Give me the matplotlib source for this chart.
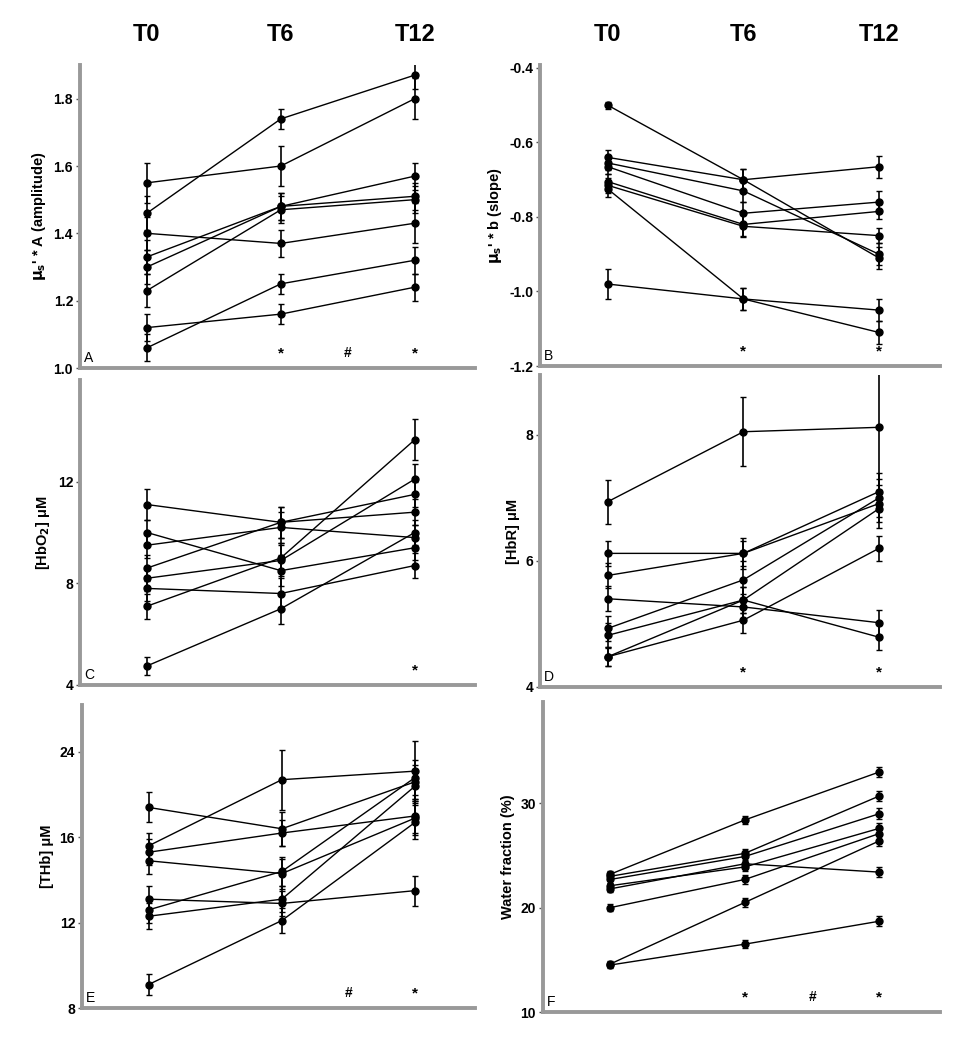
import matplotlib
matplotlib.use("Agg")
import matplotlib.pyplot as plt
from matplotlib.ticker import FixedLocator, FixedFormatter

plt.rcParams['font.family'] = ['Liberation Sans', 'DejaVu Sans']

times = ["T0", "T6", "T12"]
xpos = [0, 1, 2]

# panel A: mus' * A (amplitude), 8 subjects
a_t0 = [1.55, 1.46, 1.40, 1.33, 1.30, 1.23, 1.12, 1.06]
a_t6 = [1.60, 1.74, 1.37, 1.48, 1.48, 1.47, 1.16, 1.25]
a_t12 = [1.80, 1.87, 1.43, 1.57, 1.51, 1.50, 1.24, 1.32]
a_err = [[0.06, 0.05, 0.05, 0.05, 0.05, 0.05, 0.04, 0.04],
         [0.06, 0.03, 0.04, 0.04, 0.04, 0.04, 0.03, 0.03],
         [0.06, 0.04, 0.06, 0.04, 0.04, 0.04, 0.04, 0.04]]

# panel B: mus' * b (slope)
b_t0 = [-0.50, -0.64, -0.655, -0.665, -0.705, -0.715, -0.725, -0.98]
b_t6 = [-0.70, -0.70, -0.73, -0.79, -0.82, -0.825, -1.02, -1.02]
b_t12 = [-0.91, -0.665, -0.90, -0.76, -0.785, -0.85, -1.11, -1.05]
b_err = [[0.01, 0.02, 0.02, 0.02, 0.02, 0.02, 0.02, 0.04],
         [0.03, 0.03, 0.03, 0.03, 0.03, 0.03, 0.03, 0.03],
         [0.03, 0.03, 0.03, 0.03, 0.02, 0.02, 0.03, 0.03]]

# panel C: [HbO2]
c_t0 = [11.1, 10.0, 9.5, 8.6, 8.2, 7.8, 7.1, 4.75]
c_t6 = [10.4, 8.5, 10.2, 10.4, 8.9, 7.6, 9.0, 7.0]
c_t12 = [10.8, 9.4, 9.8, 11.5, 12.1, 8.7, 13.65, 10.0]
c_err = [[0.6, 0.5, 0.5, 0.5, 0.5, 0.5, 0.5, 0.35],
         [0.6, 0.6, 0.6, 0.6, 0.6, 0.6, 0.6, 0.6],
         [0.5, 0.5, 0.5, 0.5, 0.6, 0.5, 0.8, 0.5]]

# panel D: [HbR]
d_t0 = [6.94, 6.12, 5.77, 5.40, 4.93, 4.82, 4.48, 4.48]
d_t6 = [8.05, 6.12, 6.12, 5.27, 5.70, 5.38, 5.38, 5.06]
d_t12 = [8.12, 7.10, 6.91, 5.02, 7.0, 4.79, 6.83, 6.20]
d_err = [[0.35, 0.2, 0.2, 0.2, 0.2, 0.2, 0.15, 0.15],
         [0.55, 0.25, 0.2, 0.2, 0.3, 0.2, 0.2, 0.2],
         [1.0, 0.3, 0.3, 0.2, 0.3, 0.2, 0.3, 0.2]]

# panel E: [THb]
e_t0 = [17.4, 15.6, 15.3, 14.9, 13.1, 12.6, 12.3, 9.1]
e_t6 = [16.4, 18.7, 16.2, 14.3, 12.9, 14.4, 13.1, 12.1]
e_t12 = [18.6, 19.1, 17.0, 16.9, 13.5, 18.8, 18.4, 16.7]
e_err = [[0.7, 0.6, 0.6, 0.6, 0.6, 0.6, 0.6, 0.5],
         [0.8, 1.4, 0.6, 0.7, 0.6, 0.7, 0.6, 0.6],
         [0.8, 1.4, 0.8, 0.8, 0.7, 0.8, 0.8, 0.8]]

# panel F: water fraction
f_t0 = [23.2, 23.0, 22.7, 22.1, 21.8, 20.0, 14.6, 14.5]
f_t6 = [28.4, 25.2, 24.9, 23.9, 24.2, 22.7, 20.5, 16.5]
f_t12 = [33.0, 30.7, 29.0, 27.6, 23.4, 27.1, 26.4, 18.7]
f_err = [[0.3] * 8, [0.4] * 8, [0.5] * 8]

panels = [
    dict(letter="A", ylabel=r"$\mathbf{\mu_s}$' * A (amplitude)", data=(a_t0, a_t6, a_t12), err=a_err,
         ylim=(1.0, 1.9), ticks=[1.0, 1.2, 1.4, 1.6, 1.8], labels=["1.0", "1.2", "1.4", "1.6", "1.8"],
         marks=[(1, "*"), (1.5, "#"), (2, "*")], rect=[80, 65, 475, 368]),
    dict(letter="B", ylabel=r"$\mathbf{\mu_s}$' * b (slope)", data=(b_t0, b_t6, b_t12), err=b_err,
         ylim=(-1.2, -0.392), ticks=[-1.2, -1.0, -0.8, -0.6, -0.4], labels=["-1.2", "-1.0", "-0.8", "-0.6", "-0.4"],
         marks=[(1, "*"), (2, "*")], rect=[540, 65, 940, 366]),
    dict(letter="C", ylabel=r"[HbO$_\mathbf{2}$] μM", data=(c_t0, c_t6, c_t12), err=c_err,
         ylim=(4, 16), ticks=[4, 8, 12], labels=["4", "8", "12"],
         marks=[(2, "*")], rect=[80, 380, 475, 685]),
    dict(letter="D", ylabel="[HbR] μM", data=(d_t0, d_t6, d_t12), err=d_err,
         ylim=(4, 8.95), ticks=[4, 6, 8], labels=["4", "6", "8"],
         marks=[(1, "*"), (2, "*")], rect=[540, 375, 940, 687]),
    dict(letter="E", ylabel="[THb] μM", data=(e_t0, e_t6, e_t12), err=e_err,
         ylim=(8, 22.2), ticks=[8, 12, 16, 20], labels=["8", "12", "16", "24"],
         marks=[(1.5, "#"), (2, "*")], rect=[82, 705, 475, 1008]),
    dict(letter="F", ylabel="Water fraction (%)", data=(f_t0, f_t6, f_t12), err=f_err,
         ylim=(10, 39.7), ticks=[10, 20, 30], labels=["10", "20", "30"],
         marks=[(1, "*"), (1.5, "#"), (2, "*")], rect=[543, 702, 940, 1012]),
]

W, H = 958, 1050
fig = plt.figure(figsize=(W / 100, H / 100), dpi=100)

for i, p in enumerate(panels):
    x0, y0, x1, y1 = p["rect"]
    ax = fig.add_axes([x0 / W, 1 - y1 / H, (x1 - x0) / W, (y1 - y0) / H])
    t0, t6, t12 = p["data"]
    e0, e6, e12 = p["err"]
    for k in range(len(t0)):
        ys = [t0[k], t6[k], t12[k]]
        ax.errorbar(xpos, ys, yerr=[e0[k], e6[k], e12[k]], color="black", lw=1.0, marker="o", ms=5,
                    elinewidth=1.2, capsize=2, capthick=1, zorder=3)
    ax.set_xlim(-0.5, 2.45)
    ax.set_ylim(*p["ylim"])
    ax.yaxis.set_major_locator(FixedLocator(p["ticks"]))
    ax.yaxis.set_major_formatter(FixedFormatter(p["labels"]))
    ax.set_xticks([])
    for s in ["top", "right"]:
        ax.spines[s].set_visible(False)
    for s in ["left", "bottom"]:
        ax.spines[s].set_color("#999999")
        ax.spines[s].set_linewidth(2.8)
    ax.tick_params(axis="y", length=3, width=1, color="#555555", labelsize=10, pad=2)
    for lab in ax.get_yticklabels():
        lab.set_fontweight("bold")
    ax.set_ylabel(p["ylabel"], fontsize=10.5, fontweight="bold", labelpad=4)
    ax.text(0.01, 0.01, p["letter"], transform=ax.transAxes, fontsize=10, ha="left", va="bottom")
    for mx, m in p["marks"]:
        ax.text(mx, 0.025, m, transform=ax.get_xaxis_transform(), fontsize=11 if m == "*" else 10,
                fontweight="bold", ha="center", va="bottom")
    if i < 2:
        for xp, t in zip(xpos, times):
            ax.text(xp, 1.1, t, transform=ax.get_xaxis_transform(), fontsize=17,
                    fontweight="bold", ha="center", va="center")

fig.savefig("out.png", dpi=100)
